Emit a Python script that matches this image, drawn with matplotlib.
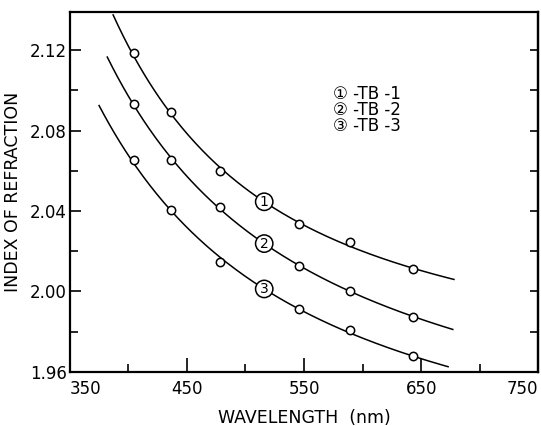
#!/usr/bin/env python3
import numpy as np
import matplotlib
matplotlib.use("Agg")
import matplotlib.pyplot as plt

# measured wavelengths (nm)
wl = [405, 436, 478, 546, 589, 643]

# index of refraction for the three samples
tb1 = [2.1184, 2.0892, 2.0600, 2.0334, 2.0246, 2.0114]
tb2 = [2.0930, 2.0656, 2.0420, 2.0125, 2.0003, 1.9873]
tb3 = [2.0656, 2.0404, 2.0147, 1.9915, 1.9810, 1.9679]

# where each drawn curve starts and ends (wavelength, index)
curve_start = [387, 382, 375]
curve_start_n = [2.1363, 2.1164, 2.0915]
curve_end = [678, 677, 673]
curve_end_n = [2.0054, 1.9813, 1.9618]

# curve tags
tags = ["1", "2", "3"]
tag_wl = [516, 516, 516]
legend_lines = ["\u2460 -TB -1", "\u2461 -TB -2", "\u2462 -TB -3"]

plt.rcParams["font.family"] = ["DejaVu Sans", "Noto Sans CJK SC"]

fig = plt.figure(figsize=(5.41, 4.26), dpi=100)
ax = fig.add_axes([0.129, 0.127, 0.866, 0.845])

curves = zip([tb1, tb2, tb3], curve_start, curve_start_n, curve_end, curve_end_n, tags, tag_wl)
for n, s, sn, e, en, t, tw in curves:
    # smooth fit in 1/lambda through the points and the curve ends
    xf = np.array([s] + wl + [e], float)
    yf = np.array([sn] + n + [en])
    p = np.polyfit(1000.0 / xf, yf, 3)
    xs = np.linspace(s, e, 200)
    ax.plot(xs, np.polyval(p, 1000.0 / xs), color="black", lw=1.1, zorder=2)
    ax.plot(wl, n, "o", ms=6, mfc="white", mec="black", mew=1.1, zorder=3)
    ty = np.polyval(p, 1000.0 / tw)
    ax.text(tw, ty, t, ha="center", va="center", fontsize=10, zorder=4,
            bbox=dict(boxstyle="circle,pad=0.12", fc="white", ec="black", lw=1.1))

ax.text(575, 2.0901, "\n".join(legend_lines), fontsize=12, va="center", ha="left",
        linespacing=0.87)

ax.set_xlim(350, 750)
ax.set_ylim(1.96, 2.139)
ax.set_xticks([350, 450, 550, 650, 750])
ax.set_xticks([400, 500, 600, 700], minor=True)
ax.set_yticks([1.96, 2.00, 2.04, 2.08, 2.12])
ax.set_yticklabels(["1.96", "2.00", "2.04", "2.08", "2.12"])
ax.set_yticks([1.98, 2.02, 2.06, 2.10], minor=True)
ax.tick_params(which="both", direction="in", top=False, right=False, labelsize=12, width=1.2)
ax.tick_params(axis="x", which="major", length=10, pad=6)
ax.tick_params(axis="y", which="major", length=8, pad=2)
ax.tick_params(which="minor", length=5.5)
xl = ax.get_xticklabels()
xl[0].set_ha("left")
xl[-1].set_ha("right")

sec = ax.secondary_yaxis("right")
sec.set_yticks(np.arange(1.98, 2.13, 0.02))
sec.tick_params(direction="in", length=6, width=1.2, labelright=False)

for sp in list(ax.spines.values()) + [sec.spines["right"]]:
    sp.set_linewidth(1.6)

ax.set_xlabel("WAVELENGTH  (nm)", fontsize=12.5, labelpad=8)
ax.set_ylabel("INDEX OF REFRACTION", fontsize=12.5, labelpad=6)

fig.savefig("out.png", dpi=100)
